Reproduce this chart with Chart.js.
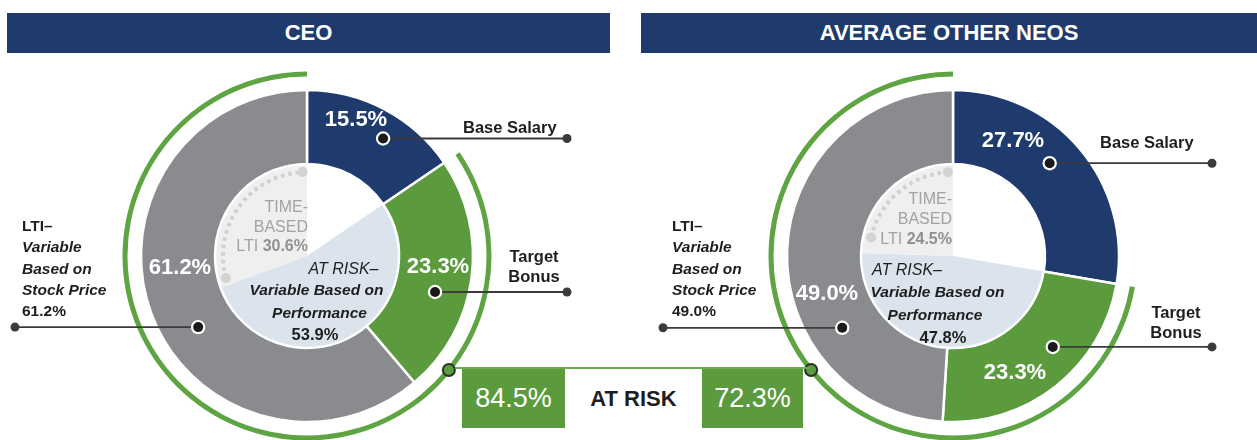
<!DOCTYPE html>
<html>
<head>
<meta charset="utf-8">
<title>CEO and Other NEO Pay Mix</title>
<script src="https://cdn.jsdelivr.net/npm/chart.js@4.4.1/dist/chart.umd.min.js"></script>
<style>
  html, body { margin: 0; padding: 0; background: #fff; }
  body {
    width: 1257px; height: 440px; overflow: hidden; position: relative;
    font-family: "Liberation Sans", Arial, Helvetica, sans-serif; color: #222;
  }
  canvas { position: absolute; top: 0; }
  .bar {
    position: absolute; top: 13px; height: 40px; background: #1f3b6d; color: #fff;
    font-weight: bold; font-size: 22px; display: flex; align-items: center; justify-content: center;
    z-index: 2;
  }
  .t { position: absolute; white-space: nowrap; line-height: 1; z-index: 3; }
  .c { transform: translate(-50%, -50%); }
  .l { transform: translate(0, -50%); }
  .r { transform: translate(-100%, -50%); }
  .seg { color: #fff; font-weight: bold; font-size: 22px; }
  .lab { font-weight: bold; font-size: 16.5px; color: #1e1e1e; }
  .lti { position: absolute; z-index: 3; font-weight: bold; font-size: 15.5px; line-height: 21.3px; color: #1e1e1e; }
  .lti i { font-style: italic; }
  .time { font-size: 16px; color: #a2a2a2; }
  .time b { color: #909090; }
  .risk { font-size: 16px; color: #1e1e1e; font-style: italic; }
  .risk.bi { font-weight: bold; font-size: 15.5px; }
  .risk.v { font-style: normal; font-weight: bold; font-size: 16.5px; }
  .box { position: absolute; top: 369px; height: 59px; display: flex; align-items: center; justify-content: center; z-index: 2; }
  .box.g { background: #5b9b3d; color: #fff; font-size: 27px; }
  .box.w { background: #fff; color: #1e1e1e; font-weight: bold; font-size: 22px; }
  .topline { position: absolute; top: 367px; height: 2px; background: #6cab52; z-index: 1; }
</style>
</head>
<body>
<canvas id="ceoChart" width="630" height="440" style="left:0"></canvas>
<canvas id="neoChart" width="627" height="440" style="left:630px"></canvas>

<script>
// ---- data ----
const panelTitles = ['CEO', 'AVERAGE OTHER NEOS'];
const segments = ['Base Salary', 'Target Bonus', 'LTI'];
const ceoPay = [15.5, 23.3, 61.2];
const neoPay = [27.7, 23.3, 49.0];
// inner pie: base salary, at-risk performance-based pay, time-based LTI
const innerParts = ['Base Salary', 'At Risk – Variable Based on Performance', 'Time-Based LTI'];
const ceoInner = [15.5, 53.9, 30.6];
const neoInner = [27.7, 47.8, 24.5];

// ---- styling ----
const C = {
  navy: '#1f3b6d', green: '#5b9b3d', gray: '#8a8b8e', arc: '#5fa443',
  lightBlue: '#dbe3ec', lightGray: '#efeff0', innerWhite: '#ffffff'
};
const pct = v => v.toFixed(1) + '%';
const DEG = Math.PI / 180;

function overlayPlugin(cfg) {
  return {
    id: 'overlay',
    afterDatasetsDraw(chart) {
      const ctx = chart.ctx;
      const ring = chart.getDatasetMeta(2).data;
      const cx = ring[0].x, cy = ring[0].y;

      // dotted guide inside the time-based slice
      const t = chart.getDatasetMeta(3).data[2];
      const a0 = t.startAngle + cfg.dotPad[0] * DEG, a1 = t.endAngle - cfg.dotPad[1] * DEG;
      const rd = 84;
      ctx.save();
      ctx.strokeStyle = '#d0d0d0';
      ctx.lineWidth = 4;
      ctx.setLineDash([3.5, 4]);
      ctx.beginPath();
      ctx.arc(cx, cy, rd, a0, a1);
      ctx.stroke();
      ctx.setLineDash([]);
      ctx.fillStyle = '#d3d3d3';
      [a0, a1].forEach(a => {
        ctx.beginPath();
        ctx.arc(cx + rd * Math.cos(a), cy + rd * Math.sin(a), 5, 0, 2 * Math.PI);
        ctx.fill();
      });

      // leader lines from each slice to its label
      cfg.leaders.forEach(L => {
        const el = ring[L.seg];
        const a = el.startAngle + (el.endAngle - el.startAngle) * L.f;
        const mx = cx + L.r * Math.cos(a), my = cy + L.r * Math.sin(a);
        ctx.strokeStyle = '#3b3b3b';
        ctx.lineWidth = 1.8;
        ctx.beginPath();
        ctx.moveTo(mx, my);
        ctx.lineTo(L.endX, my);
        ctx.stroke();
        ctx.fillStyle = '#3b3b3b';
        ctx.beginPath(); ctx.arc(L.endX, my, 4.5, 0, 2 * Math.PI); ctx.fill();
        ctx.fillStyle = '#ffffff';
        ctx.beginPath(); ctx.arc(mx, my, 7.2, 0, 2 * Math.PI); ctx.fill();
        ctx.fillStyle = '#1a1a1a';
        ctx.beginPath(); ctx.arc(mx, my, 5, 0, 2 * Math.PI); ctx.fill();
      });

      // connector where the at-risk arc meets the summary box
      const arcEl = chart.getDatasetMeta(0).data[1];
      const rm = (arcEl.innerRadius + arcEl.outerRadius) / 2;
      const dy = cfg.boxY - cy;
      const px = cx + cfg.side * Math.sqrt(rm * rm - dy * dy);
      ctx.fillStyle = C.green;
      ctx.strokeStyle = '#263326';
      ctx.lineWidth = 2;
      ctx.beginPath(); ctx.arc(px, cfg.boxY, 6, 0, 2 * Math.PI); ctx.fill(); ctx.stroke();
      ctx.restore();
    }
  };
}

function makeDonut(id, pay, inner, padding, cfg) {
  const atRisk = pay[1] + pay[2];
  return new Chart(document.getElementById(id), {
    type: 'doughnut',
    data: {
      labels: segments,
      datasets: [
        { label: 'At risk', data: [pay[0], atRisk], backgroundColor: ['rgba(0,0,0,0)', C.arc], borderWidth: 0, weight: 5, clip: false },
        { label: 'gap', data: [100], backgroundColor: ['rgba(0,0,0,0)'], borderWidth: 0, weight: 13.5, clip: false },
        { label: 'Pay mix', data: pay, backgroundColor: [C.navy, C.green, C.gray], borderColor: '#ffffff', borderWidth: 2.5, weight: 74, clip: false },
        { label: 'Pay basis', data: inner, backgroundColor: [C.innerWhite, C.lightBlue, C.lightGray], borderWidth: 0, weight: 92, clip: false }
      ]
    },
    options: {
      responsive: false,
      animation: false,
      events: [],
      radius: 184.5,
      cutout: 0,
      layout: { padding },
      plugins: { legend: { display: false }, tooltip: { enabled: false } }
    },
    plugins: [overlayPlugin(cfg)]
  });
}

makeDonut('ceoChart', ceoPay, ceoInner, { left: 0, right: 16, top: 72, bottom: 0 }, {
  side: 1, boxY: 370, dotPad: [5, 3],
  leaders: [
    { seg: 0, f: 0.59, r: 140, endX: 567 },
    { seg: 1, f: 0.595, r: 133, endX: 567 },
    { seg: 2, f: 0.441, r: 130, endX: 15 }
  ]
});
makeDonut('neoChart', neoPay, neoInner, { left: 19, right: 0, top: 72, bottom: 0 }, {
  side: -1, boxY: 370, dotPad: [11, 3.5],
  leaders: [
    { seg: 0, f: 0.463, r: 134, endX: 1212 - 630 },
    { seg: 1, f: 0.389, r: 135, endX: 1212 - 630 },
    { seg: 2, f: 0.303, r: 132, endX: 663 - 630 }
  ]
});

// ---- text ----
function put(html, x, y, cls) {
  const d = document.createElement('div');
  d.className = 't ' + cls;
  d.innerHTML = html;
  d.style.left = x + 'px';
  d.style.top = y + 'px';
  document.body.appendChild(d);
  return d;
}
function block(html, x, y) {
  const d = document.createElement('div');
  d.className = 'lti';
  d.innerHTML = html;
  d.style.left = x + 'px';
  d.style.top = y + 'px';
  document.body.appendChild(d);
}
function bar(text, x, w) {
  const d = document.createElement('div');
  d.className = 'bar';
  d.textContent = text;
  d.style.left = x + 'px';
  d.style.width = w + 'px';
  document.body.appendChild(d);
}

bar(panelTitles[0], 7, 603);
bar(panelTitles[1], 641, 616);

const panels = [
  {
    pay: ceoPay, inner: ceoInner,
    seg: [[356, 119], [438, 266], [180, 267]],
    base: [463, 127], target: [534, 256], lti: [22, 215],
    time: [308, 207, 19.5],
    risk: [['c', 343.5, 268.5], ['c', 316.5, 290], ['c', 319.5, 313], ['c', 315, 334]]
  },
  {
    pay: neoPay, inner: neoInner,
    seg: [[1013, 140], [1015, 372], [827, 293]],
    base: [1100, 142], target: [1176, 312], lti: [672, 215],
    time: [952, 198.5, 20],
    risk: [['l', 872, 270], ['c', 937.5, 292], ['c', 935, 315], ['c', 943, 337]]
  }
];

panels.forEach(p => {
  p.seg.forEach((xy, i) => put(pct(p.pay[i]), xy[0], xy[1], 'c seg'));
  put(segments[0], p.base[0], p.base[1], 'l lab');
  put('Target', p.target[0], p.target[1], 'c lab');
  put('Bonus', p.target[0], p.target[1] + 20, 'c lab');
  block('LTI–<br><i>Variable<br>Based on<br>Stock Price</i><br>' + pct(p.pay[2]), p.lti[0], p.lti[1]);
  const [tx, ty, tg] = p.time;
  put('TIME-', tx, ty, 'r time');
  put('BASED', tx, ty + tg, 'r time');
  put('LTI <b>' + pct(p.inner[2]) + '</b>', tx, ty + 2 * tg, 'r time');
  const rt = ['AT RISK–', 'Variable Based on', 'Performance', pct(p.inner[1])];
  const rc = ['risk', 'risk bi', 'risk bi', 'risk v'];
  p.risk.forEach((r, i) => put(rt[i], r[1], r[2], r[0] + ' ' + rc[i]));
});

// ---- at-risk summary ----
const line = document.createElement('div');
line.className = 'topline';
line.style.left = '455px';
line.style.width = '355px';
document.body.appendChild(line);
[
  ['g', 462, 103, pct(ceoPay[1] + ceoPay[2])],
  ['w', 565, 137, 'AT RISK'],
  ['g', 702, 101, pct(neoPay[1] + neoPay[2])]
].forEach(([k, x, w, txt]) => {
  const d = document.createElement('div');
  d.className = 'box ' + k;
  d.style.left = x + 'px';
  d.style.width = w + 'px';
  d.textContent = txt;
  document.body.appendChild(d);
});
</script>
</body>
</html>
